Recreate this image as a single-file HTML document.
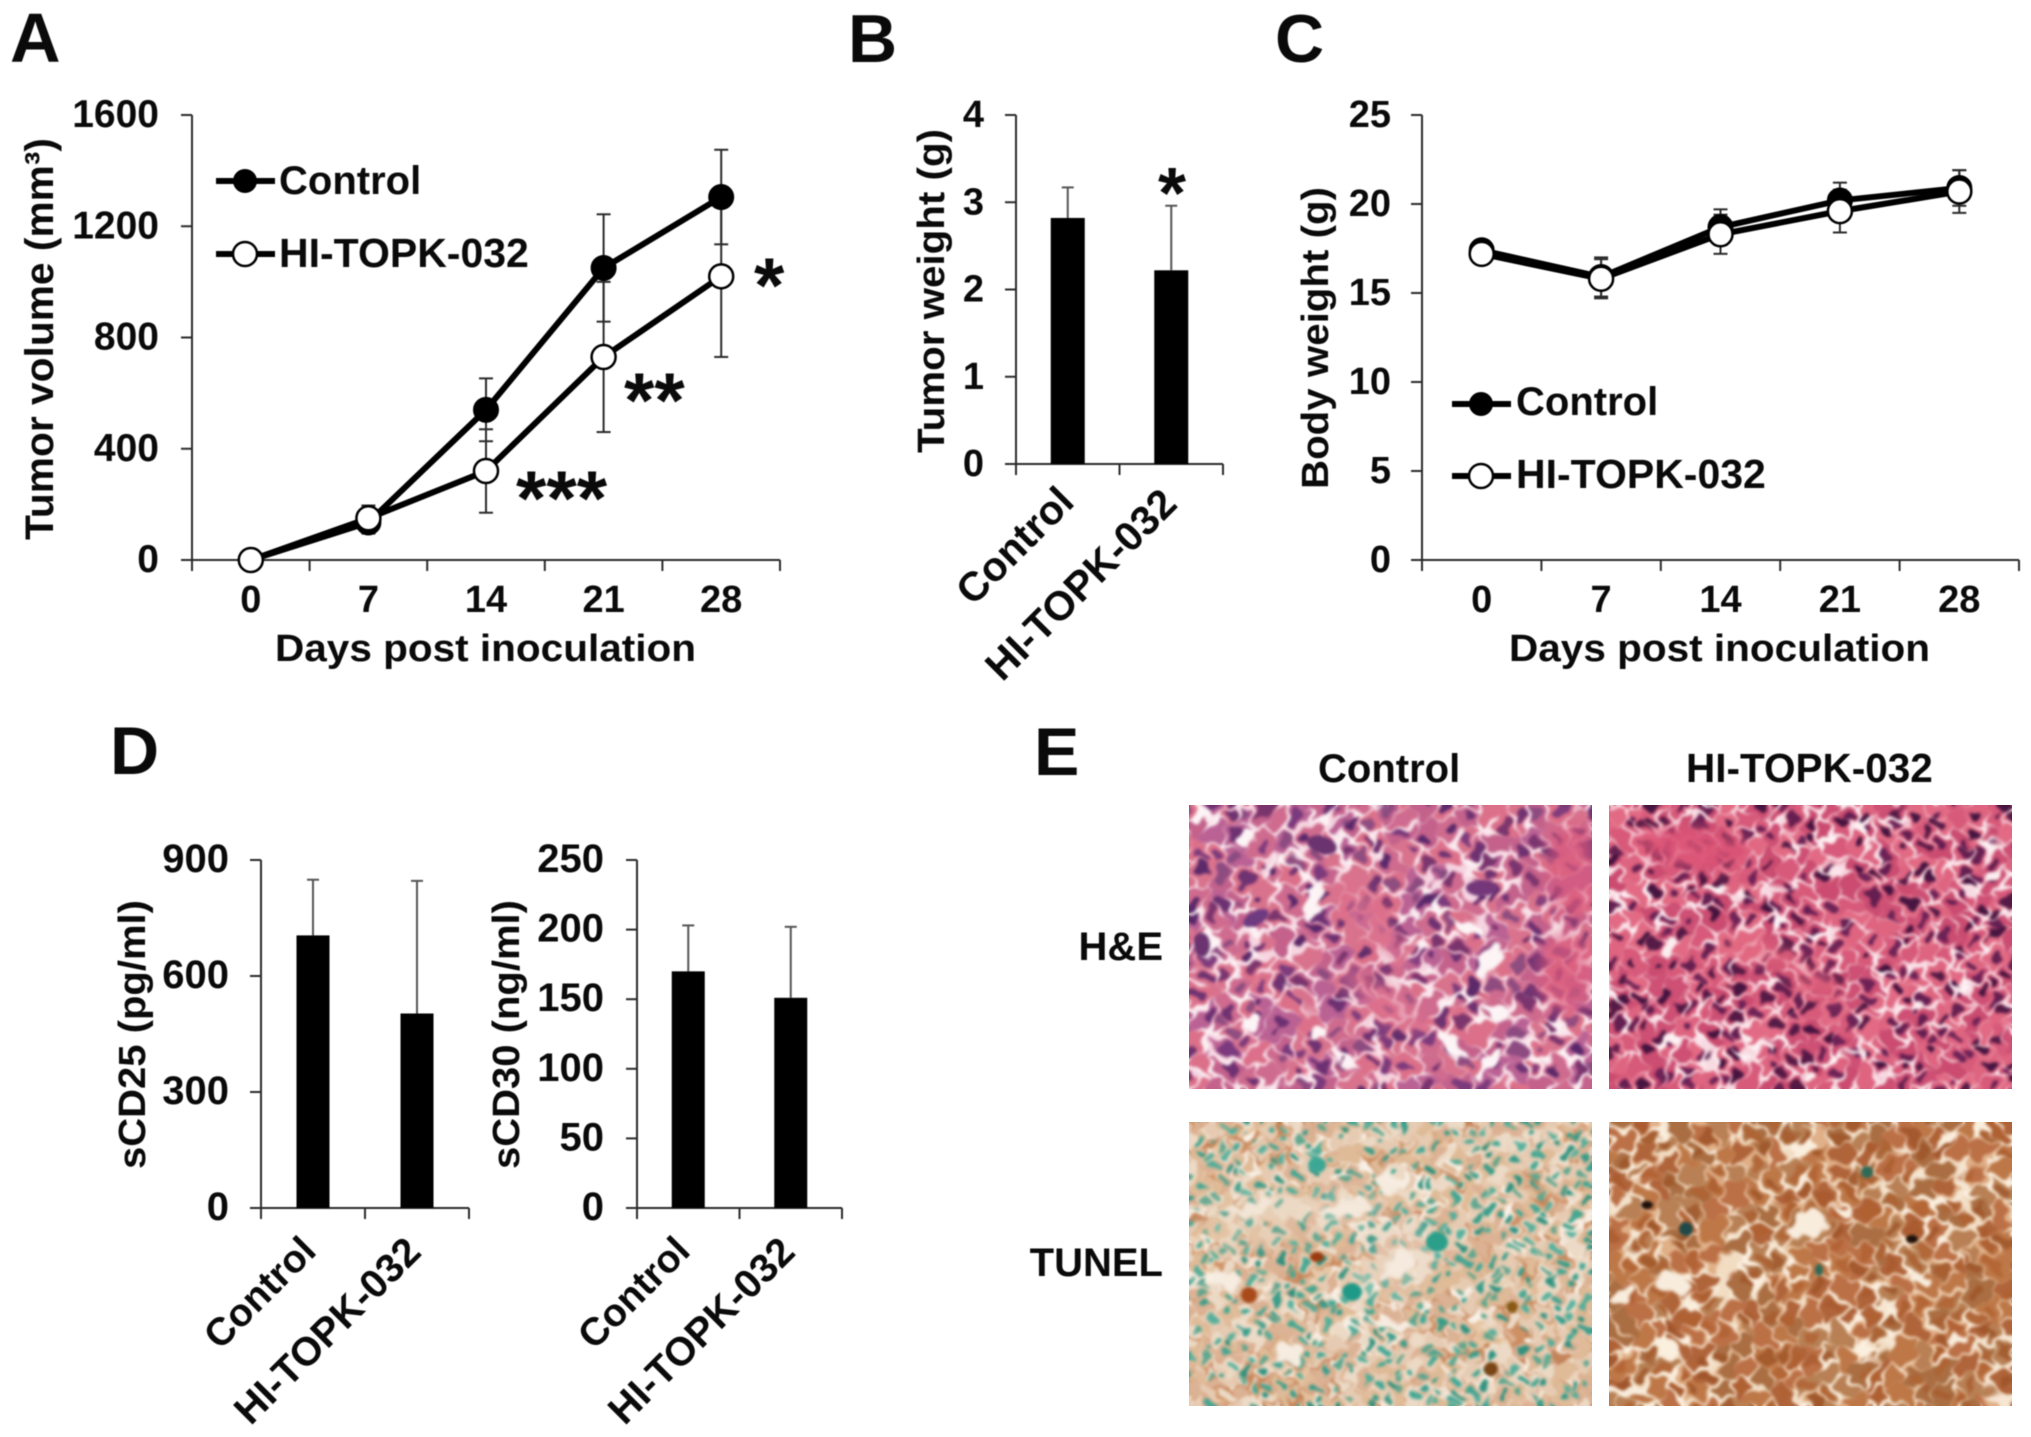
<!DOCTYPE html>
<html lang="en">
<head>
<meta charset="utf-8">
<title>HI-TOPK-032 tumor figure</title>
<style>
html,body{margin:0;padding:0;background:#fff;width:2031px;height:1437px;overflow:hidden}
#figure{position:absolute;left:0;top:0;width:2031px;height:1437px;filter:blur(0.6px)}
canvas{position:absolute;display:block}
text{font-family:"Liberation Sans",Arial,sans-serif;font-weight:700;fill:#0a0a0a}
</style>
</head>
<body>
<svg id="figure" xmlns="http://www.w3.org/2000/svg" width="2031" height="1437" viewBox="0 0 2031 1437">
  <text x="10" y="62" font-size="70">A</text>
  <text x="848" y="62" font-size="68">B</text>
  <text x="1275" y="62" font-size="68">C</text>
  <text x="110" y="774" font-size="68">D</text>
  <text x="1034" y="775" font-size="68">E</text>

  <g id="chartA"></g>
  <g id="chartB"></g>
  <g id="chartC"></g>
  <g id="chartD1"></g>
  <g id="chartD2"></g>

  <text transform="translate(53,540) rotate(-90)" font-size="40" textLength="402" lengthAdjust="spacingAndGlyphs">Tumor volume (mm³)</text>
  <text x="275" y="661" font-size="38" textLength="421" lengthAdjust="spacingAndGlyphs">Days post inoculation</text>
  <text x="279" y="194" font-size="40">Control</text>
  <text x="279" y="267" font-size="41">HI-TOPK-032</text>
  <text x="754" y="312" font-size="78">*</text>
  <text x="624" y="427" font-size="78">**</text>
  <text x="516" y="525" font-size="78">***</text>

  <text transform="translate(944,453) rotate(-90)" font-size="38" textLength="324" lengthAdjust="spacingAndGlyphs">Tumor weight (g)</text>
  <text x="1158" y="218" font-size="72">*</text>
  <text transform="translate(1076,504) rotate(-45)" text-anchor="end" font-size="41">Control</text>
  <text transform="translate(1179,506) rotate(-45)" text-anchor="end" font-size="41">HI-TOPK-032</text>

  <text transform="translate(1328,489) rotate(-90)" font-size="38" textLength="302" lengthAdjust="spacingAndGlyphs">Body weight (g)</text>
  <text x="1509" y="661" font-size="38" textLength="421" lengthAdjust="spacingAndGlyphs">Days post inoculation</text>
  <text x="1516" y="415" font-size="40">Control</text>
  <text x="1516" y="488" font-size="41">HI-TOPK-032</text>

  <text transform="translate(145,1169) rotate(-90)" font-size="38" textLength="269" lengthAdjust="spacingAndGlyphs">sCD25 (pg/ml)</text>
  <text transform="translate(519,1169) rotate(-90)" font-size="38" textLength="269" lengthAdjust="spacingAndGlyphs">sCD30 (ng/ml)</text>
  <text transform="translate(318,1253) rotate(-45)" text-anchor="end" font-size="39">Control</text>
  <text transform="translate(423,1254) rotate(-45)" text-anchor="end" font-size="40">HI-TOPK-032</text>
  <text transform="translate(692,1253) rotate(-45)" text-anchor="end" font-size="39">Control</text>
  <text transform="translate(797,1254) rotate(-45)" text-anchor="end" font-size="40">HI-TOPK-032</text>

  <text x="1318" y="782" font-size="40">Control</text>
  <text x="1686" y="782" font-size="40.5">HI-TOPK-032</text>
  <text x="1163" y="960" text-anchor="end" font-size="40">H&amp;E</text>
  <text x="1163" y="1276" text-anchor="end" font-size="40">TUNEL</text>
</svg>

<canvas id="heControl" width="403" height="284" style="left:1189px;top:805px"></canvas>
<canvas id="heTreated" width="403" height="284" style="left:1609px;top:805px"></canvas>
<canvas id="tunelControl" width="403" height="284" style="left:1189px;top:1122px"></canvas>
<canvas id="tunelTreated" width="403" height="284" style="left:1609px;top:1122px"></canvas>

<script>
// ---- chart data ----
const dayLabels = ['0', '7', '14', '21', '28'];
const volumeTicks = [0, 400, 800, 1200, 1600];
const volumeControl = [0, 135, 540, 1050, 1305];
const volumeControlErr = [5, 40, 113, 193, 170];
const volumeTreated = [0, 150, 320, 730, 1020];
const volumeTreatedErr = [5, 46, 150, 270, 290];

const weightTicks = [0, 1, 2, 3, 4];
const weightMeans = [2.82, 2.22];
const weightErr = [0.35, 0.74];

const bodyTicks = [0, 5, 10, 15, 20, 25];
const bodyControl = [17.4, 15.9, 18.7, 20.2, 20.9];
const bodyControlErr = [0.5, 1.1, 1.0, 1.0, 1.0];
const bodyTreated = [17.2, 15.8, 18.3, 19.6, 20.7];
const bodyTreatedErr = [0.5, 1.1, 1.1, 1.2, 1.2];

const scd25Ticks = [0, 300, 600, 900];
const scd25Means = [705, 503];
const scd25Err = [144, 343];

const scd30Ticks = [0, 50, 100, 150, 200, 250];
const scd30Means = [170, 151];
const scd30Err = [33, 51];

const SVGNS = 'http://www.w3.org/2000/svg';
const INK = '#2b2b2b';

function mk(parent, tag, attrs, txt) {
  const el = document.createElementNS(SVGNS, tag);
  for (const k in attrs) el.setAttribute(k, attrs[k]);
  if (txt !== undefined) el.textContent = txt;
  parent.appendChild(el);
  return el;
}

function drawAxes(g, box, ticks, yMax, xCount, tickX, fontSize) {
  const y = v => box.bottom - (v / yMax) * (box.bottom - box.top);
  const yAxis = mk(g, 'line', {x1: box.left, x2: box.left, y1: box.top, y2: box.bottom, stroke: INK, 'stroke-width': 2});
  
  
  const xAxis = mk(g, 'line', {x1: box.left, x2: box.right, y1: box.bottom, y2: box.bottom, stroke: INK, 'stroke-width': 2});
  
  
  ticks.forEach(t => {
    const mark = mk(g, 'line', {x1: box.left - 11, x2: box.left, y1: y(t), y2: y(t), stroke: INK, 'stroke-width': 2});
    
    
    const label = mk(g, 'text', {x: tickX, y: y(t) + 12, 'text-anchor': 'end', 'font-size': fontSize}, String(t));
    
    
  });
  const band = (box.right - box.left) / xCount;
  for (let i = 0; i <= xCount; i++) {
    const mark = mk(g, 'line', {x1: box.left + band * i, x2: box.left + band * i, y1: box.bottom, y2: box.bottom + 11, stroke: INK, 'stroke-width': 2});
    
    
  }
  return {y: y, x: i => box.left + band * (i + 0.5)};
}

function drawErr(g, px, top, bottom, capHalf, color) {
  const stem = mk(g, 'line', {x1: px, x2: px, y1: top, y2: bottom, stroke: color, 'stroke-width': 2});
  
  
  [top, bottom].forEach(cy => {
    const cap = mk(g, 'line', {x1: px - capHalf, x2: px + capHalf, y1: cy, y2: cy, stroke: color, 'stroke-width': 2});
    
    
  });
}

function drawLineChart(g, box, ticks, yMax, tickX, tickFont, controlVals, controlErr, treatedVals, treatedErr) {
  const ax = drawAxes(g, box, ticks, yMax, dayLabels.length, tickX, tickFont);
  dayLabels.forEach((d, i) => {
    const label = mk(g, 'text', {x: ax.x(i), y: 612, 'text-anchor': 'middle', 'font-size': 38}, d);
    
    
  });
  controlVals.forEach((v, i) => drawErr(g, ax.x(i), ax.y(v + controlErr[i]), ax.y(Math.max(0, v - controlErr[i])), 7, INK));
  treatedVals.forEach((v, i) => drawErr(g, ax.x(i), ax.y(v + treatedErr[i]), ax.y(Math.max(0, v - treatedErr[i])), 7, INK));
  const ptsC = controlVals.map((v, i) => ax.x(i) + ',' + ax.y(v)).join(' ');
  const ptsT = treatedVals.map((v, i) => ax.x(i) + ',' + ax.y(v)).join(' ');
  const lineC = mk(g, 'polyline', {points: ptsC, fill: 'none', stroke: '#000', 'stroke-width': 6});
  
  
  const lineT = mk(g, 'polyline', {points: ptsT, fill: 'none', stroke: '#000', 'stroke-width': 6});
  
  
  controlVals.forEach((v, i) => {
    const dot = mk(g, 'circle', {cx: ax.x(i), cy: ax.y(v), r: 12, fill: '#000', stroke: '#000', 'stroke-width': 2});
    
    
  });
  treatedVals.forEach((v, i) => {
    const dot = mk(g, 'circle', {cx: ax.x(i), cy: ax.y(v), r: 12, fill: '#fff', stroke: '#000', 'stroke-width': 2.5});
    
    
  });
}

function drawBarChart(g, box, ticks, yMax, tickX, tickFont, means, errs, barWidth) {
  const ax = drawAxes(g, box, ticks, yMax, means.length, tickX, tickFont);
  means.forEach((v, i) => {
    const px = ax.x(i);
    const stem = mk(g, 'line', {x1: px, x2: px, y1: ax.y(v + errs[i]), y2: ax.y(v), stroke: '#555', 'stroke-width': 2});
    
    
    const cap = mk(g, 'line', {x1: px - 6, x2: px + 6, y1: ax.y(v + errs[i]), y2: ax.y(v + errs[i]), stroke: '#555', 'stroke-width': 2});
    
    
    const bar = mk(g, 'rect', {x: px - barWidth / 2, y: ax.y(v), width: barWidth, height: box.bottom - ax.y(v), fill: '#000'});
    
    
  });
}

function drawLegend(g, cx, y1, y2) {
  const a = mk(g, 'line', {x1: cx - 29, x2: cx + 30, y1: y1, y2: y1, stroke: '#000', 'stroke-width': 6});
  
  
  const b = mk(g, 'circle', {cx: cx, cy: y1, r: 12, fill: '#000'});
  
  
  const c = mk(g, 'line', {x1: cx - 29, x2: cx + 30, y1: y2, y2: y2, stroke: '#000', 'stroke-width': 6});
  
  
  const d = mk(g, 'circle', {cx: cx, cy: y2, r: 12, fill: '#fff', stroke: '#000', 'stroke-width': 2.5});
  
  
}

const gA = document.getElementById('chartA');
drawLineChart(gA, {left: 192, right: 780, top: 115, bottom: 560}, volumeTicks, 1600, 159, 39, volumeControl, volumeControlErr, volumeTreated, volumeTreatedErr);
drawLegend(gA, 245, 181, 254);

drawBarChart(document.getElementById('chartB'), {left: 1016, right: 1223, top: 115, bottom: 464}, weightTicks, 4, 984, 38, weightMeans, weightErr, 34);

const gC = document.getElementById('chartC');
drawLineChart(gC, {left: 1422, right: 2019, top: 115, bottom: 560}, bodyTicks, 25, 1391, 38, bodyControl, bodyControlErr, bodyTreated, bodyTreatedErr);
drawLegend(gC, 1481, 404, 476);

drawBarChart(document.getElementById('chartD1'), {left: 261, right: 469, top: 860, bottom: 1208}, scd25Ticks, 900, 229, 40, scd25Means, scd25Err, 33);
drawBarChart(document.getElementById('chartD2'), {left: 637, right: 842, top: 860, bottom: 1208}, scd30Ticks, 250, 604, 40, scd30Means, scd30Err, 33);

// ---- micrograph textures (decorative stained-tissue fill, cell network) ----
function seeded(s) {
  return function () {
    s = (s * 1664525 + 1013904223) >>> 0;
    let t = s;
    t ^= t >>> 15; t = Math.imul(t, 2246822507) >>> 0;
    t ^= t >>> 13;
    return (t >>> 0) / 4294967296;
  };
}
function rgb(hex) {
  return [parseInt(hex.slice(1, 3), 16), parseInt(hex.slice(3, 5), 16), parseInt(hex.slice(5, 7), 16)];
}
function clamp01(v) {
  return v < 0 ? 0 : v > 1 ? 1 : v;
}
function patches(ctx, list) {
  list.forEach(p => {
    ctx.fillStyle = p[5];
    ctx.beginPath();
    ctx.ellipse(p[0], p[1], p[2], p[3], p[4], 0, Math.PI * 2);
    ctx.fill();
  });
}
function tissue(id, seed, o) {
  const W = 403, H = 284;
  const ctx = document.getElementById(id).getContext('2d');
  const rnd = seeded(seed);
  const pick = list => rgb(list[Math.floor(rnd() * list.length)]);
  const seeds = [];
  for (let gy = -o.g; gy < H + o.g; gy += o.g) {
    for (let gx = -o.g; gx < W + o.g; gx += o.g) {
      const ang = rnd() * Math.PI;
      const a = o.g * (o.nucMin + rnd() * (o.nucMax - o.nucMin));
      seeds.push({
        x: gx + rnd() * o.g,
        y: gy + rnd() * o.g,
        cell: pick(o.cells),
        nuc: rnd() < o.nucChance ? pick(o.nuclei) : null,
        gap: pick(o.gaps),
        a: a,
        b: a * (0.6 + rnd() * 0.4),
        c: Math.cos(ang),
        s: Math.sin(ang)
      });
    }
  }
  const p = [0, 0, 0, 0, 0, 0, 0, 0, 0, 0].map(() => rnd() * 6.283);
  const img = ctx.createImageData(W, H);
  const d = img.data;
  const holeColor = rgb(o.hole);
  const softEdge = 1.8;
  for (let y = 0; y < H; y++) {
    for (let x = 0; x < W; x++) {
      const wx = x + 3 * Math.sin(y * 0.09 + p[0]) + 2 * Math.sin(x * 0.13 + y * 0.05 + p[1]) + 2.2 * Math.sin(y * 0.37 + x * 0.11 + p[8]);
      const wy = y + 3 * Math.sin(x * 0.08 + p[2]) + 2 * Math.sin(y * 0.14 - x * 0.06 + p[3]) + 2.2 * Math.sin(x * 0.33 - y * 0.12 + p[9]);
      let d1 = 1e9, d2 = 1e9, best = null;
      for (let i = 0; i < seeds.length; i++) {
        const s = seeds[i];
        const dx = wx - s.x, dy = wy - s.y;
        const dd = dx * dx + dy * dy;
        if (dd < d1) { d2 = d1; d1 = dd; best = s; }
        else if (dd < d2) { d2 = dd; }
      }
      d1 = Math.sqrt(d1);
      d2 = Math.sqrt(d2);
      const n1 = 0.5 + 0.25 * Math.sin(x * 0.035 + y * 0.02 + p[4]) + 0.25 * Math.sin(y * 0.05 - x * 0.015 + p[5]);
      const n2 = 0.5 + 0.5 * Math.sin(x * 0.11 + y * 0.07 + p[6]) * Math.sin(y * 0.13 - x * 0.05 + p[7]);
      const w = o.gapWidth * (0.05 + 1.8 * n2 * (0.35 + n1));
      const gapA = clamp01((w - (d2 - d1)) / softEdge);
      const col = best.cell;
      let r = col[0], g = col[1], b = col[2];
      if (best.nuc) {
        const dx = wx - best.x, dy = wy - best.y;
        const u = (dx * best.c + dy * best.s) / best.a;
        const v = (-dx * best.s + dy * best.c) / best.b;
        const t = clamp01((1 - Math.sqrt(u * u + v * v)) * best.a / 1.6) * o.nucAlpha;
        r += (best.nuc[0] - r) * t;
        g += (best.nuc[1] - g) * t;
        b += (best.nuc[2] - b) * t;
      }
      const gc = best.gap;
      r += (gc[0] - r) * gapA;
      g += (gc[1] - g) * gapA;
      b += (gc[2] - b) * gapA;
      let h = 0;
      for (let i = 0; i < o.holes.length; i++) {
        const q = o.holes[i];
        const cs = Math.cos(q[4]), sn = Math.sin(q[4]);
        const ddx = wx - q[0], ddy = wy - q[1];
        const uu = (ddx * cs + ddy * sn) / q[2];
        const vv = (-ddx * sn + ddy * cs) / q[3];
        const hv = (1.1 - Math.sqrt(uu * uu + vv * vv) + (n2 - 0.5) * 0.45) * 4;
        if (hv > h) h = hv;
      }
      h = clamp01(h);
      r += (holeColor[0] - r) * h;
      g += (holeColor[1] - g) * h;
      b += (holeColor[2] - b) * h;
      const k = (y * W + x) * 4;
      d[k] = r; d[k + 1] = g; d[k + 2] = b; d[k + 3] = 255;
    }
  }
  ctx.putImageData(img, 0, 0);
  ctx.globalAlpha = o.softAlpha;
  ctx.filter = 'blur(8px)';
  patches(ctx, o.soft);
  ctx.globalAlpha = 1;
  ctx.filter = 'blur(1.7px)';
  ctx.drawImage(ctx.canvas, 0, 0);
  ctx.filter = 'blur(1.5px)';
  patches(ctx, o.spots);
  ctx.filter = 'none';
}

tissue('heControl', 11, {
  g: 21, gapWidth: 3.4, gaps: ['#fdf2f5', '#fbe8ee', '#f6d4e0'], hole: '#fdf4f6',
  cells: ['#cf6b8e', '#c4628c', '#d9738d', '#bb6294', '#dc708a'],
  nuclei: ['#642c6e', '#74367a', '#4e2266', '#87497f', '#722f6a'], nucChance: 0.85, nucAlpha: 0.9, nucMin: 0.22, nucMax: 0.46,
  holes: [
    [127, 93, 8, 20, 0.3], [17, 140, 7, 17, 0], [300, 157, 11, 18, 0.1], [305, 207, 18, 8, 0.7],
    [263, 240, 18, 7, 0.7], [300, 257, 20, 6, -0.6], [277, 122, 14, 5, 0.3], [60, 30, 9, 6, 0],
    [12, 12, 10, 6, 0], [200, 150, 8, 6, 0.5], [60, 215, 10, 5, 0.4], [130, 225, 9, 6, 0.5]
  ],
  soft: [
    [383, 67, 28, 50, 0, '#dc5a7c'], [377, 167, 28, 40, 0, '#dc5a7c'],
    [183, 117, 60, 14, 0.9, '#dd708f'], [193, 193, 50, 16, 0.6, '#dd708f']
  ],
  softAlpha: 0.7,
  spots: [
    [133, 40, 15, 9, 0.3, '#6b3470'], [67, 113, 14, 7, -0.5, '#6e3a80'], [13, 140, 8, 12, 0, '#6b3470'],
    [293, 83, 16, 8, 0, '#74387a']
  ]
});
tissue('heTreated', 23, {
  g: 18, gapWidth: 2.8, gaps: ['#fdf0f3', '#fbe4ea', '#f8dae2'], hole: '#fbeef0',
  cells: ['#d85a7a', '#ce5074', '#de6480', '#cb4c70', '#e26a84'],
  nuclei: ['#4c1542', '#5c1b4e', '#3c0f3c', '#661f54'], nucChance: 0.82, nucAlpha: 0.93, nucMin: 0.26, nucMax: 0.46,
  holes: [[60, 140, 6, 8, 0], [108, 82, 11, 4, -0.3], [383, 70, 10, 5, -0.6], [200, 270, 8, 5, 0], [140, 230, 6, 5, 0]],
  soft: [
    [83, 43, 60, 20, 0.1, '#dd5577'], [150, 147, 40, 10, 0.3, '#e2667f'], [207, 177, 30, 9, 0.5, '#e2667f']
  ],
  softAlpha: 0.85,
  spots: []
});
tissue('tunelControl', 37, {
  g: 14, gapWidth: 2.6, gaps: ['#f6ebdf', '#f9f2e8', '#cf9064', '#c4845a', '#e7c6a4'], hole: '#f6ece0',
  cells: ['#e6cbb2', '#dfbb98', '#ecdac6', '#dcb294'],
  nuclei: ['#38a592', '#4aae9a', '#2c9a88', '#56a48c', '#228e7c'], nucChance: 0.82, nucAlpha: 0.92, nucMin: 0.3, nucMax: 0.44,
  holes: [
    [207, 140, 22, 10, -0.5], [160, 87, 28, 8, 0], [37, 157, 14, 8, 0], [200, 57, 11, 13, 0],
    [100, 233, 14, 8, 0], [205, 200, 24, 5, 0], [60, 85, 16, 7, 0]
  ],
  soft: [[207, 140, 50, 30, -0.5, '#f3e6d6'], [160, 87, 50, 22, 0, '#f1e2d0'], [60, 100, 50, 30, 0, '#ecd6c0']],
  softAlpha: 0.3,
  spots: [
    [248, 120, 11, 10, 0, '#2b9f8a'], [128, 43, 9, 8, 0, '#3da795'], [163, 170, 10, 9, 0, '#1f9a88'],
    [128, 135, 7, 5, 0, '#9a3a10'], [60, 173, 8, 8, 0, '#a84a1a'], [302, 247, 7, 7, 0, '#7a4414'], [323, 185, 6, 6, 0, '#8a5a14']
  ]
});
tissue('tunelTreated', 53, {
  g: 20, gapWidth: 3.8, gaps: ['#f6e6d2', '#f2dcc2', '#fbefde', '#e0b088'], hole: '#f8ecdc',
  cells: ['#bc7046', '#b0643a', '#be7848', '#b88054', '#aa6e42'],
  nuclei: ['#a85a2c', '#9c5226', '#b06030'], nucChance: 0.65, nucAlpha: 0.75, nucMin: 0.3, nucMax: 0.52,
  holes: [
    [197, 103, 22, 11, 0], [60, 163, 22, 13, 0.3], [13, 170, 11, 11, 0], [20, 267, 20, 5, 0],
    [310, 155, 12, 5, 0], [230, 88, 14, 5, 0], [345, 215, 10, 6, 0]
  ],
  soft: [],
  softAlpha: 1,
  spots: [
    [77, 107, 7, 7, 0, '#1f4a48'], [258, 50, 6, 6, 0, '#2f6a58'], [210, 148, 4, 6, 0, '#2f6a58'],
    [38, 83, 6, 4, 0, '#1a100c'], [303, 117, 6, 4, 0, '#1a100c']
  ]
});
</script>
</body>
</html>
